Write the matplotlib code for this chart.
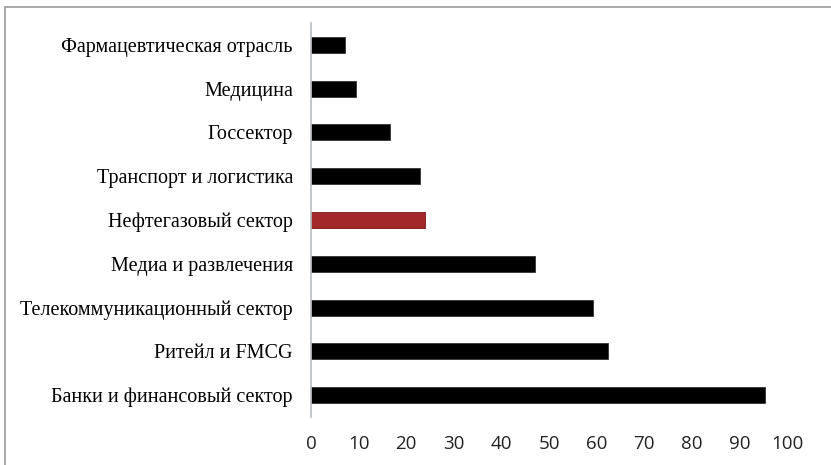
import matplotlib
matplotlib.use("Agg")
import matplotlib.pyplot as plt
from matplotlib.patches import Rectangle

# categories top -> bottom as shown on the chart
categories = ["Фармацевтическая отрасль", "Медицина", "Госсектор",
              "Транспорт и логистика", "Нефтегазовый сектор",
              "Медиа и развлечения", "Телекоммуникационный сектор",
              "Ритейл и FMCG", "Банки и финансовый сектор"]
values = [7.2, 9.5, 16.7, 23, 24, 47, 59.2, 62.3, 95.4]
highlight = "Нефтегазовый сектор"
xticks = [0, 10, 20, 30, 40, 50, 60, 70, 80, 90, 100]

W, H = 831, 465
fig = plt.figure(figsize=(W/100, H/100), dpi=100)
fig.patch.set_facecolor("white")

# outer frame (only left and top edges are inside the picture)
fig.patches.append(Rectangle((5/W, -0.1), 1.2, 1 - 7.5/H + 0.1, transform=fig.transFigure,
                             fill=False, edgecolor="#9a9a9a", linewidth=1.2))

ax = fig.add_axes([311/W, 1 - 417/H, (787-311)/W, (417-23)/H])

colors = ["#a3282a" if c == highlight else "black" for c in categories]
edges = ["#7a1616" if c == highlight else "#333333" for c in categories]
ypos = list(range(len(categories)))
ax.barh(ypos, values, height=0.365, color=colors, edgecolor=edges, linewidth=0.6)

ax.set_ylim(len(categories) - 0.5, -0.5)
ax.set_xlim(0, 100)
ax.set_yticks(ypos)
ax.set_yticklabels(categories, family="Liberation Serif", fontsize=14.5)
ax.set_xticks(xticks)
ax.set_xticklabels([str(t) for t in xticks], family="Open Sans", fontsize=13.5, color="#222222")
ax.tick_params(axis="y", length=0, pad=13)
ax.tick_params(axis="x", length=0, pad=13)

for s in ["top", "right", "bottom"]:
    ax.spines[s].set_visible(False)
ax.spines["left"].set_color("#b8bcc0")
ax.spines["left"].set_linewidth(1.2)

fig.savefig("out.png", dpi=100)
